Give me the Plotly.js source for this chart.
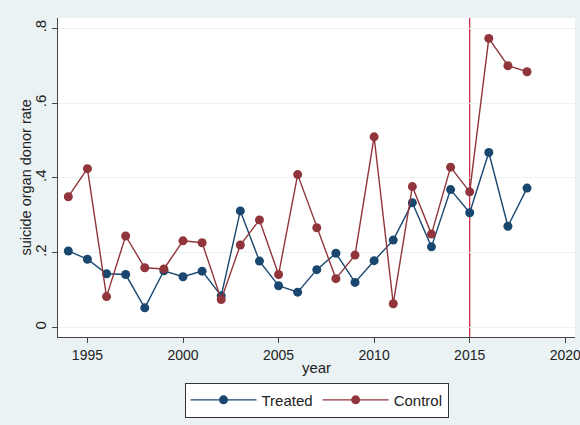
<!DOCTYPE html>
<html>
<head>
<meta charset="utf-8">
<script src="https://cdn.plot.ly/plotly-3.0.1.min.js"></script>
<style>
  html, body { margin: 0; padding: 0; background: #eaf2f3; }
  #chart { width: 580px; height: 425px; }
</style>
</head>
<body>
<div id="chart"></div>
<script>
// Suicide organ donor rate by year, treated vs control group
const years = [1994, 1995, 1996, 1997, 1998, 1999, 2000, 2001, 2002, 2003, 2004, 2005, 2006,
               2007, 2008, 2009, 2010, 2011, 2012, 2013, 2014, 2015, 2016, 2017, 2018];

const treated = [0.205, 0.183, 0.144, 0.142, 0.053, 0.152, 0.136, 0.151, 0.085, 0.312, 0.178, 0.112, 0.095,
                 0.155, 0.199, 0.121, 0.179, 0.234, 0.334, 0.216, 0.369, 0.307, 0.468, 0.271, 0.373];

const control = [0.350, 0.425, 0.083, 0.245, 0.160, 0.157, 0.232, 0.227, 0.075, 0.221, 0.288, 0.142, 0.409,
                 0.267, 0.131, 0.194, 0.510, 0.064, 0.377, 0.250, 0.429, 0.363, 0.773, 0.700, 0.684];

const seriesNames = ["Treated", "Control"];
const treatmentYear = 2015;

const yTickVals = [0, 0.2, 0.4, 0.6, 0.8];
const yTickText = ["0", ".2", ".4", ".6", ".8"];
const xTickVals = [1995, 2000, 2005, 2010, 2015, 2020];

const navy = "#1a476f";
const maroon = "#90353b";
const font = "Liberation Sans, Arial, sans-serif";

const traces = [
  {
    x: years, y: treated, name: seriesNames[0],
    type: "scatter", mode: "lines+markers",
    line: { color: navy, width: 1.4 },
    marker: { color: navy, size: 9 }
  },
  {
    x: years, y: control, name: seriesNames[1],
    type: "scatter", mode: "lines+markers",
    line: { color: maroon, width: 1.4 },
    marker: { color: maroon, size: 9 }
  }
];

const layout = {
  width: 580, height: 425,
  paper_bgcolor: "#eaf2f3",
  plot_bgcolor: "#ffffff",
  margin: { l: 58, r: 5, t: 18, b: 88 },
  font: { family: font, size: 14, color: "#222" },
  showlegend: true,
  legend: {
    orientation: "h",
    x: 0.5, xanchor: "center",
    y: -0.143, yanchor: "top",
    bgcolor: "#ffffff",
    bordercolor: "#333",
    borderwidth: 1,
    itemwidth: 66,
    font: { family: font, size: 15, color: "#222" }
  },
  xaxis: {
    range: [1993.46, 2020.51],
    tickvals: xTickVals,
    ticks: "outside", ticklen: 5, tickcolor: "#444",
    ticklabeloverflow: "allow",
    showgrid: false, zeroline: false,
    showline: true, linecolor: "#444", linewidth: 1,
    tickfont: { family: font, size: 14, color: "#222" },
    title: { text: "year", font: { family: font, size: 15, color: "#222" }, standoff: 0 }
  },
  yaxis: {
    range: [-0.0249, 0.8275],
    tickvals: yTickVals,
    ticktext: yTickText,
    tickangle: -90,
    ticks: "outside", ticklen: 5, tickcolor: "#444",
    showgrid: true, gridcolor: "#eaf2f3", gridwidth: 1,
    zeroline: false,
    showline: true, linecolor: "#444", linewidth: 1,
    tickfont: { family: font, size: 15, color: "#222" }
  },
  annotations: [
    {
      // y-axis title, set close to the rotated tick labels
      text: "suicide organ donor rate",
      xref: "paper", yref: "paper",
      x: 0, y: 0.5, xanchor: "center", yanchor: "middle",
      xshift: -33, textangle: -90, showarrow: false,
      font: { family: font, size: 14.5, color: "#222" }
    }
  ],
  shapes: [
    {
      type: "line", xref: "x", yref: "paper",
      x0: treatmentYear, x1: treatmentYear, y0: 0, y1: 1,
      line: { color: "#c41e3a", width: 1.2 },
      layer: "below"
    }
  ]
};

Plotly.newPlot("chart", traces, layout, { displayModeBar: false, staticPlot: true });
</script>
</body>
</html>
